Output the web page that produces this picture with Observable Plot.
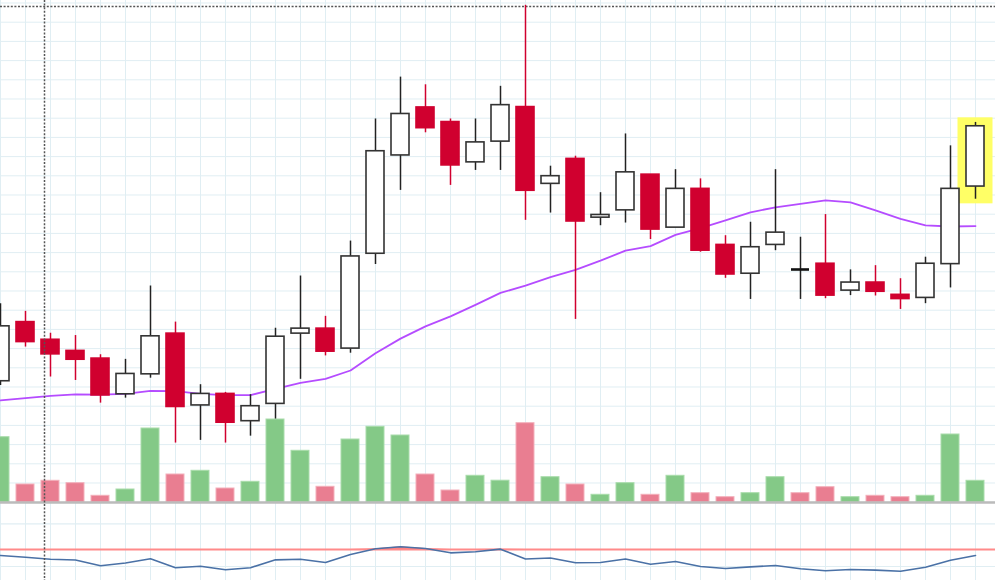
<!DOCTYPE html>
<html><head><meta charset="utf-8">
<script src="https://cdn.jsdelivr.net/npm/d3@7"></script>
<script src="https://cdn.jsdelivr.net/npm/@observablehq/plot@0.6"></script>
<style>
html,body{margin:0;padding:0;background:#fff;}
#wrap{position:relative;width:995px;height:580px;overflow:hidden;background:#fff;}
#wrap svg{position:absolute;left:0;background:transparent;}
</style></head><body><div id="wrap"></div>
<script>
// ---- data ----
const opens  = [8.15, 9.69, 9.23, 8.94, 8.74, 7.81, 8.33, 9.39, 7.52, 7.82, 7.11, 7.56, 9.39, 9.52, 9.00, 11.47, 14.03, 15.28, 14.90, 13.85, 14.39, 15.29, 13.29, 13.94, 12.41, 12.60, 13.53, 12.15, 13.16, 11.70, 10.95, 11.70, 11.06, 11.21, 10.51, 10.72, 10.40, 10.32, 11.20, 13.22];
const highs  = [10.17, 9.97, 9.40, 9.34, 8.84, 8.72, 10.63, 9.69, 8.06, 7.86, 7.80, 9.53, 10.89, 9.84, 11.80, 14.98, 16.07, 15.87, 14.98, 14.98, 15.83, 17.94, 13.75, 14.01, 13.06, 14.59, 13.53, 13.66, 13.42, 11.94, 12.29, 13.66, 11.90, 12.49, 11.05, 11.16, 10.82, 11.38, 14.28, 14.89];
const lows   = [8.04, 9.04, 8.26, 8.17, 7.58, 7.71, 8.23, 6.54, 6.61, 6.54, 6.72, 7.00, 8.20, 8.81, 8.88, 11.19, 13.12, 14.62, 13.25, 13.64, 13.64, 12.34, 12.53, 9.76, 12.20, 12.27, 11.84, 12.15, 11.51, 10.83, 10.28, 11.55, 10.28, 10.30, 10.38, 10.37, 10.02, 10.17, 10.58, 12.89];
const closes = [9.58, 9.17, 8.85, 8.71, 7.78, 8.34, 9.32, 7.48, 7.82, 7.07, 7.50, 9.31, 9.52, 8.92, 11.40, 14.14, 15.11, 14.74, 13.77, 14.37, 15.34, 13.11, 13.49, 12.31, 12.48, 13.59, 12.10, 13.16, 11.55, 10.93, 11.64, 12.02, 11.06, 10.38, 10.72, 10.48, 10.29, 11.21, 13.16, 14.79];
const volumes = [6530, 1800, 2170, 1930, 670, 1300, 7400, 2800, 3170, 1400, 2070, 8300, 5170, 1570, 6300, 7570, 6700, 2800, 1200, 2670, 2180, 7930, 2530, 1800, 770, 1930, 770, 2670, 930, 530, 930, 2530, 930, 1530, 530, 670, 530, 670, 6800, 2170];
const maValues = [7.65, 7.71, 7.77, 7.81, 7.80, 7.82, 7.90, 7.89, 7.82, 7.79, 7.79, 7.95, 8.11, 8.21, 8.43, 8.88, 9.26, 9.58, 9.84, 10.14, 10.45, 10.64, 10.86, 11.05, 11.29, 11.55, 11.67, 11.96, 12.14, 12.34, 12.55, 12.68, 12.77, 12.86, 12.81, 12.60, 12.38, 12.21, 12.18, 12.19];
const oscValues = [62.9, 60.9, 58.5, 57.6, 50.8, 54.1, 59.0, 48.6, 50.2, 46.1, 48.6, 57.8, 58.5, 54.7, 64.1, 70.7, 73.2, 71.1, 66.0, 67.3, 70.3, 58.8, 60.0, 54.3, 54.7, 58.8, 52.7, 55.9, 50.0, 47.7, 49.6, 51.2, 47.3, 45.0, 46.5, 45.7, 44.5, 49.2, 57.4, 62.9];
const oscLevel = 70;
const oscGrid = [50, 100];
const crosshair = {index: 1.76, price: 17.91};
const highlightIndex = 39;

// ---- build ----
const candles = opens.map((o, i) => ({i, o, h: highs[i], l: lows[i], c: closes[i], v: volumes[i], ma: maValues[i], osc: oscValues[i]}));
const dir = d => d.c > d.o ? "up" : d.c < d.o ? "down" : "flat";
const RED = "#d0002f", DARK = "#333", GRID = "#e0eef3";
const GREEN_V = "#84c987", PINK_V = "#e97e91";
const X = {domain: [0, 39.8], range: [0, 995], axis: null};
const W = 0.36;
const priceGrid = d3.range(5, 18.01, 0.5);
const dash = {stroke: "#555", strokeDasharray: "2,1.6", strokeWidth: 1.5};
const wrap = document.getElementById("wrap");

const main = Plot.plot({
  width: 995, height: 504, margin: 0,
  x: X, y: {domain: [4.9401, 18.0651], range: [504, 0], axis: null},
  marks: [
    Plot.ruleY(priceGrid, {stroke: GRID, strokeWidth: 1}),
    Plot.ruleX(candles, {x: "i", stroke: GRID, strokeWidth: 1}),
    Plot.ruleY([crosshair.price], dash),
    Plot.rect(candles.filter(d => d.i === highlightIndex), {x1: d => d.i - 0.7, x2: d => d.i + 0.7, y1: d => d.l - 0.12, y2: d => d.h + 0.12, fill: "#ffff66"}),
    Plot.line(candles, {x: "i", y: "ma", stroke: "#b54cff", strokeWidth: 1.8}),
    Plot.ruleX(candles, {x: "i", y1: "l", y2: "h", stroke: d => dir(d) === "down" ? RED : "#222", strokeWidth: 1.5}),
    Plot.rect(candles.filter(d => dir(d) !== "flat"), {x1: d => d.i - W, x2: d => d.i + W, y1: "o", y2: "c",
      fill: d => dir(d) === "down" ? RED : "white", stroke: d => dir(d) === "down" ? RED : DARK, strokeWidth: 1.6}),
    Plot.ruleY(candles.filter(d => dir(d) === "flat"), {y: "o", x1: d => d.i - W, x2: d => d.i + W, stroke: "#111", strokeWidth: 2.6})
  ]
});
main.style.top = "0px";
wrap.appendChild(main);

const vol = Plot.plot({
  width: 995, height: 504, margin: 0,
  x: X, y: {domain: [0, 50200], range: [502, 0], axis: null},
  marks: [
    Plot.rect(candles, {x1: d => d.i - W, x2: d => d.i + W, y1: 0, y2: "v",
      fill: d => dir(d) === "up" ? GREEN_V : PINK_V, stroke: d => dir(d) === "up" ? "#a9dcab" : "#f3b0bb", strokeWidth: 1}),
    Plot.ruleY([0], {stroke: "#bbbbbb", strokeWidth: 2.5}),
    Plot.ruleX([crosshair.index], dash)
  ]
});
vol.style.top = "0px";
wrap.appendChild(vol);

const osc = Plot.plot({
  width: 995, height: 76, margin: 0,
  x: X, y: {domain: [33.6, 122.6], range: [76, 0], axis: null},
  marks: [
    Plot.ruleY(oscGrid, {stroke: GRID, strokeWidth: 1.2}),
    Plot.ruleX(candles, {x: "i", stroke: GRID, strokeWidth: 1}),
    Plot.areaY(candles, {x: "i", y1: oscLevel, y2: d => Math.max(d.osc, oscLevel), fill: "#ff6666", fillOpacity: 0.85}),
    Plot.ruleY([oscLevel], {stroke: "#ff8a8a", strokeWidth: 2}),
    Plot.line(candles, {x: "i", y: "osc", stroke: "#4a71a6", strokeWidth: 1.6}),
    Plot.ruleX([crosshair.index], dash)
  ]
});
osc.style.top = "504px";
wrap.appendChild(osc);
</script>
</body></html>
